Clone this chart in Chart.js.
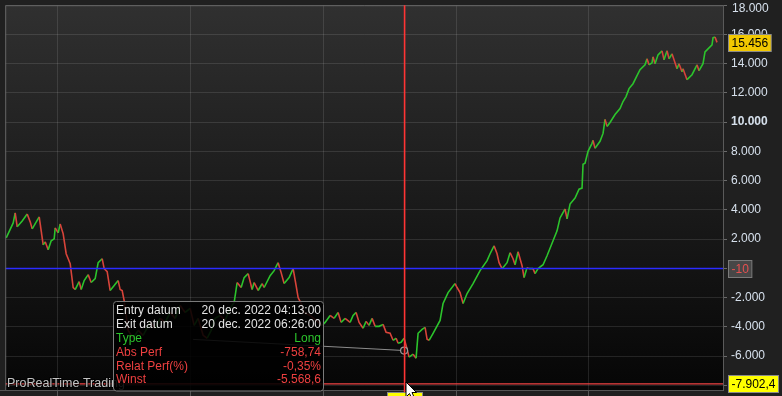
<!DOCTYPE html>
<html>
<head>
<meta charset="utf-8">
<script src="https://cdn.jsdelivr.net/npm/chart.js@4.4.0/dist/chart.umd.min.js"></script>
<style>
html, body { margin: 0; padding: 0; background: #202020; overflow: hidden; }
canvas { display: block; }
</style>
</head>
<body>
<canvas id="chart" width="782" height="396"></canvas>
<script>
// price bars (bar number) and closing values
const bars = [1, 8, 10, 12, 17, 22, 25, 27, 34, 38, 40, 43, 46, 49, 50, 53, 55, 58, 61, 63,
	65, 68, 70, 74, 76, 79, 83, 86, 90, 93, 97, 99, 102, 105, 109, 113, 115, 117, 119, 123,
	128, 133, 138, 145, 150, 155, 160, 165, 170, 175, 180, 185, 189, 193, 198, 202, 206, 210, 215, 220,
	225, 229, 232, 236, 239, 243, 247, 249, 253, 257, 259, 265, 269, 273, 276, 279, 284, 288, 291, 293,
	296, 299, 305, 311, 317, 320, 325, 329, 333, 336, 340, 345, 348, 351, 354, 358, 361, 364, 367, 370,
	374, 378, 381, 385, 388, 391, 393, 396, 399, 402, 404, 408, 411, 413, 417, 420, 422, 424, 428, 435,
	438, 443, 450, 452, 455, 458, 462, 468, 475, 482, 485, 489, 492, 494, 497, 502, 505, 508, 510, 513,
	517, 519, 522, 524, 528, 530, 533, 538, 542, 548, 552, 555, 560, 562, 565, 570, 574, 577, 578, 580,
	583, 587, 588, 590, 595, 598, 600, 602, 605, 610, 615, 618, 621, 624, 628, 632, 635, 640, 642, 644,
	647, 648, 650, 653, 657, 659, 662, 664, 667, 669, 672, 674, 677, 678, 682, 687, 692, 694, 698, 700,
	703, 707, 708, 710, 712];
const closes = [2090, 3110, 3790, 2840, 3245, 3720, 3180, 2700, 3520, 1610, 1815, 1270, 1885, 2020, 2770, 2430, 3040, 2360, 1000, 660,
	320, -1310, -1450, -905, -1450, -835, -430, -970, -700, 390, 660, -20, -225, -1515, -1175, -835, -1450, -1515, -2200, -4240,
	-4780, -4240, -4580, -3695, -4100, -3420, -3695, -3015, -3420, -2540, -3015, -2740, -3900, -3420, -4580, -4780, -4240, -3420, -3220, -3560,
	-2740, -2335, -970, -1310, -630, -360, -1450, -970, -1515, -1040, -1310, -500, -155, 390, -290, -1040, -630, -20, -1175, -1995,
	-2400, -3015, -3220, -3560, -3900, -3695, -3220, -3420, -3015, -3695, -3420, -3695, -3220, -3015, -3695, -4100, -3625, -3900, -3420, -3965,
	-3965, -3830, -4375, -4440, -4920, -4780, -5120, -5055, -4780, -5530, -6075, -5870, -6145, -4440, -4170, -4035, -4850, -4920, -4440, -3560,
	-2400, -1655, -1040, -1310, -1655, -2400, -1720, -1040, -155, 525, 1000, 1545, 1000, 390, -20, 390, 1070, 660, 250, 1135,
	185, -630, 50, -20, -20, -360, -20, 250, 865, 1885, 2565, 3450, 4060, 3380, 4400, 4810, 5420, 5490, 7120, 7190,
	8005, 8550, 8755, 8210, 8690, 9230, 10185, 9710, 9980, 10525, 10930, 11410, 11750, 12295, 12630, 13180, 13585, 13925, 14335, 13925,
	14060, 14470, 13995, 14605, 14880, 14265, 14880, 14335, 14675, 14265, 13655, 13995, 13450, 13655, 12905, 13245, 13925, 13520, 13995, 14810,
	15015, 15285, 15765, 15830, 15456];

const gridBars = [52, 185, 318, 451, 583];
const yTickValues = [-8000, -7000, -6000, -5000, -4000, -3000, -2000, -1000, 0, 1000, 2000, 3000, 4000,
	5000, 6000, 7000, 8000, 9000, 10000, 11000, 12000, 13000, 14000, 15000, 16000, 17000, 18000];

const zeroLevel = -10;
const cursorBar = 399.5;
const cursorValue = -7902.4;
const tradeBars = [188, 399];
const tradeValues = [-4860, -5620];

const infoLabels = ['Entry datum', 'Exit datum', 'Type', 'Abs Perf', 'Relat Perf(%)', 'Winst'];
const infoValues = ['20 dec. 2022 04:13:00', '20 dec. 2022 06:26:00', 'Long', '-758,74', '-0,35%', '-5.568,6'];

const GREEN = '#2cc42c';
const RED = '#d8443a';
const GRID = 'rgba(255,255,255,0.11)';
const FONT = '"Liberation Sans", Arial, sans-serif';

function fmt(v, dec) {
	const neg = v < 0;
	let [i, d] = Math.abs(v).toFixed(dec).split('.');
	i = i.replace(/\B(?=(\d{3})+(?!\d))/g, '.');
	return (neg ? '-' : '') + i + (d ? ',' + d : '');
}

function labelBox(ctx, text, y, fill, border, color) {
	ctx.font = '12px ' + FONT;
	const w = ctx.measureText(text).width + 6;
	const top = Math.round(y - 8.5) + 0.5;
	ctx.fillStyle = fill;
	ctx.fillRect(728.5, top, w, 17);
	ctx.strokeStyle = border;
	ctx.lineWidth = 1;
	ctx.strokeRect(728.5, top, w, 17);
	ctx.fillStyle = color;
	ctx.textAlign = 'left';
	ctx.textBaseline = 'middle';
	ctx.fillText(text, 731.5, top + 9);
}

const backdrop = {
	id: 'backdrop',
	beforeDraw(chart) {
		const { ctx, chartArea: a } = chart;
		ctx.save();
		ctx.fillStyle = '#202020';
		ctx.fillRect(0, 0, chart.width, chart.height);
		const g = ctx.createLinearGradient(0, a.top, 0, a.bottom);
		g.addColorStop(0, '#303030');
		g.addColorStop(1, '#060606');
		ctx.fillStyle = g;
		ctx.fillRect(a.left, a.top, a.right - a.left, a.bottom - a.top);
		ctx.restore();
	},
};

const overlay = {
	id: 'overlay',
	afterDraw(chart) {
		const { ctx, chartArea: a } = chart;
		const xs = chart.scales.x;
		const ys = chart.scales.y;
		ctx.save();

		// frame
		ctx.strokeStyle = '#666';
		ctx.lineWidth = 1;
		ctx.beginPath();
		ctx.moveTo(a.left + 0.5, a.bottom);
		ctx.lineTo(a.left + 0.5, a.top + 0.5);
		ctx.lineTo(a.right, a.top + 0.5);
		ctx.stroke();
		ctx.strokeStyle = '#555';
		ctx.beginPath();
		ctx.moveTo(0, a.bottom + 0.5);
		ctx.lineTo(a.right, a.bottom + 0.5);
		ctx.stroke();

		// crosshair
		const cx = xs.getPixelForValue(cursorBar);
		ctx.strokeStyle = '#ff3434';
		ctx.lineWidth = 1.6;
		ctx.beginPath();
		ctx.moveTo(cx, a.top);
		ctx.lineTo(cx, chart.height);
		ctx.stroke();

		// watermark
		ctx.font = '12.5px ' + FONT;
		ctx.textAlign = 'left';
		ctx.textBaseline = 'middle';
		ctx.lineWidth = 2;
		ctx.strokeStyle = 'rgba(0,0,0,0.7)';
		ctx.strokeText('ProRealTime Trading', 7, 383.5);
		ctx.fillStyle = '#c4c4c4';
		ctx.fillText('ProRealTime Trading', 7, 383.5);

		// trade info box
		ctx.beginPath();
		ctx.roundRect(113.5, 301.5, 210, 89.5, 3);
		ctx.fillStyle = 'rgba(0,0,0,0.88)';
		ctx.fill();
		ctx.strokeStyle = '#7a7a7a';
		ctx.lineWidth = 1;
		ctx.stroke();
		ctx.font = '12px ' + FONT;
		const rowColors = ['#e4e4e4', '#e4e4e4', GREEN, '#ee4040', '#ee4040', '#ee4040'];
		infoLabels.forEach((lab, i) => {
			const y = 311 + i * 13.8;
			ctx.fillStyle = rowColors[i];
			ctx.textAlign = 'left';
			ctx.fillText(lab, 116, y);
			ctx.textAlign = 'right';
			ctx.fillText(infoValues[i], 321, y, i < 2 ? 122 : undefined);
		});

		// top tick label pushed into view
		ctx.font = '12px ' + FONT;
		ctx.fillStyle = '#d6e0ec';
		ctx.textAlign = 'left';
		ctx.fillText(fmt(18000, 0), 732, Math.max(ys.getPixelForValue(18000), 9));

		// price labels on the axis
		const last = closes[closes.length - 1];
		labelBox(ctx, fmt(last, 0), ys.getPixelForValue(last), '#f2c800', '#8a8a8a', '#000');
		labelBox(ctx, String(zeroLevel), ys.getPixelForValue(zeroLevel), '#474747', '#7a7a7a', '#e65050');
		labelBox(ctx, fmt(cursorValue, 1), ys.getPixelForValue(cursorValue), '#ffff00', '#8a8a8a', '#000');

		// time label under crosshair
		ctx.fillStyle = '#ffff00';
		ctx.fillRect(387.5, 392.5, 35, 6);
		ctx.strokeStyle = '#888';
		ctx.strokeRect(387.5, 392.5, 35, 6);

		// mouse pointer
		const px = Math.round(cx) + 1, py = 382;
		ctx.beginPath();
		ctx.moveTo(px, py);
		ctx.lineTo(px, py + 15);
		ctx.lineTo(px + 3.5, py + 11.5);
		ctx.lineTo(px + 6, py + 17);
		ctx.lineTo(px + 8.5, py + 16);
		ctx.lineTo(px + 6, py + 10.5);
		ctx.lineTo(px + 10.5, py + 10.5);
		ctx.closePath();
		ctx.fillStyle = '#fff';
		ctx.fill();
		ctx.strokeStyle = '#000';
		ctx.lineWidth = 1;
		ctx.stroke();

		ctx.restore();
	},
};

new Chart(document.getElementById('chart'), {
	type: 'line',
	data: {
		datasets: [
			{
				data: bars.map((b, i) => ({ x: b, y: closes[i] })),
				borderColor: GREEN,
				borderWidth: 1.6,
				pointRadius: 0,
				segment: {
					borderColor: (c) => (c.p1.parsed.y < c.p0.parsed.y ? RED : GREEN),
				},
				order: 4,
			},
			{
				data: [{ x: 0, y: zeroLevel }, { x: 718, y: zeroLevel }],
				borderColor: '#2b2bff',
				borderWidth: 1.5,
				pointRadius: 0,
				order: 2,
			},
			{
				data: [{ x: 0, y: cursorValue }, { x: 718, y: cursorValue }],
				borderColor: '#f04444',
				borderWidth: 1.4,
				pointRadius: 0,
				order: 3,
			},
			{
				data: tradeBars.map((b, i) => ({ x: b, y: tradeValues[i] })),
				borderColor: '#8c8c8c',
				borderWidth: 1,
				pointRadius: [0, 3.5],
				pointBorderColor: '#9a9a9a',
				pointBackgroundColor: '#151515',
				pointBorderWidth: 1.2,
				order: 1,
			},
		],
	},
	options: {
		responsive: false,
		animation: false,
		events: [],
		layout: { padding: { top: 3, left: 5, right: 0, bottom: 0 } },
		plugins: { legend: { display: false }, tooltip: { enabled: false } },
		scales: {
			x: {
				type: 'linear',
				min: 0,
				max: 718,
				afterBuildTicks: (s) => {
					s.ticks = gridBars.map((v) => ({ value: v }));
				},
				afterFit: (s) => {
					s.height = 6;
					s.paddingLeft = 0;
					s.paddingRight = 0;
				},
				grid: { color: GRID, tickLength: 6, tickColor: '#555' },
				border: { display: false },
				ticks: { display: false },
			},
			y: {
				position: 'right',
				min: -8320,
				max: 18000,
				afterBuildTicks: (s) => {
					s.ticks = yTickValues.map((v) => ({ value: v }));
				},
				afterFit: (s) => {
					s.width = 59;
					s.paddingTop = 0;
					s.paddingBottom = 0;
				},
				grid: {
					color: (c) => (c.tick && c.tick.value % 2000 === 0 ? GRID : 'rgba(0,0,0,0)'),
					tickLength: 4,
					tickColor: '#6a6a6a',
				},
				border: { color: '#5a5a5a' },
				ticks: {
					padding: 4,
					color: '#d6e0ec',
					font: (c) => ({
						family: FONT,
						size: 12,
						weight: c.tick && c.tick.value === 10000 ? 'bold' : 'normal',
					}),
					callback: (v) => (v % 2000 === 0 && v !== 18000 && v !== -8000 ? fmt(v, 0) : ''),
				},
			},
		},
	},
	plugins: [backdrop, overlay],
});
</script>
</body>
</html>
